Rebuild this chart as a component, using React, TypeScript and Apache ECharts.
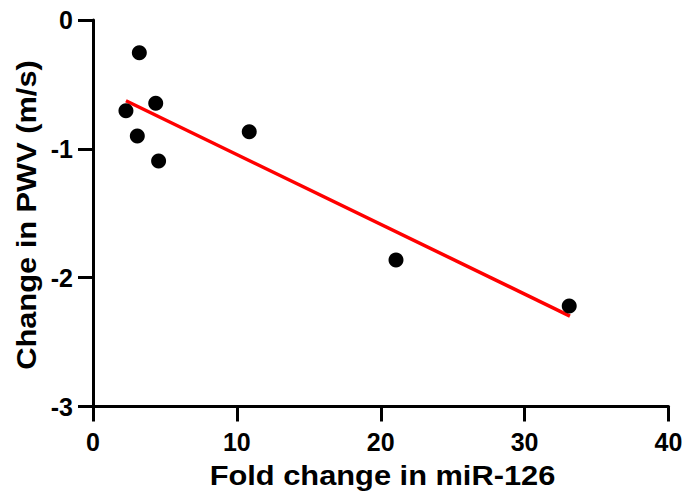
import React, { useEffect, useRef, useState } from "react";
import * as echarts from "echarts";

const foldChange = [2.29, 3.22, 3.08, 4.36, 4.56, 10.86, 21.06, 33.1];
const pwvChange = [-0.704, -0.254, -0.901, -0.647, -1.095, -0.867, -1.863, -2.22];
const fitLineX = [2.29, 33.15];
const fitLineY = [-0.627, -2.298];
const xTicks = [0, 10, 20, 30, 40];
const yTicks = [-3, -2, -1, 0];
const xTitle = "Fold change in miR-126";
const yTitle = "Change in PWV (m/s)";
const FONT = "'Liberation Sans', Arial, Helvetica, sans-serif";

export default function App() {
  const ref = useRef<HTMLDivElement>(null);
  const [ready, setReady] = useState(false);
  useEffect(() => {
    if (!ref.current) return;
    const chart = echarts.init(ref.current, null, { renderer: "svg" });
    const points = foldChange.map((x, i) => [x, pwvChange[i]]);
    const line = fitLineX.map((x, i) => [x, fitLineY[i]]);
    chart.setOption({
      animation: false,
      backgroundColor: "#fff",
      grid: { left: 93, right: 19.5, top: 20, bottom: 86.5 },
      xAxis: {
        type: "value",
        min: xTicks[0],
        max: xTicks[xTicks.length - 1],
        interval: 10,
        axisLine: { show: true, onZero: false, lineStyle: { color: "#000", width: 3 } },
        axisTick: { show: true, length: 15, lineStyle: { color: "#000", width: 3 } },
        splitLine: { show: false },
        axisLabel: { color: "#000", fontFamily: FONT, fontWeight: "bold", fontSize: 25, margin: 23 },
      },
      yAxis: {
        type: "value",
        min: yTicks[0],
        max: yTicks[yTicks.length - 1],
        interval: 1,
        axisLine: { show: true, onZero: false, lineStyle: { color: "#000", width: 3 } },
        axisTick: { show: true, length: 15, lineStyle: { color: "#000", width: 3 } },
        splitLine: { show: false },
        axisLabel: { color: "#000", fontFamily: FONT, fontWeight: "bold", fontSize: 25, margin: 20 },
      },
      graphic: [
        {
          type: "text", x: 382.5, y: 475, scaleX: 1.1,
          style: { text: xTitle, fill: "#000", font: `bold 28px ${FONT}`, align: "center", verticalAlign: "middle" },
        },
        {
          type: "text", x: 26, y: 215, rotation: Math.PI / 2, scaleX: 1.1,
          style: { text: yTitle, fill: "#000", font: `bold 28px ${FONT}`, align: "center", verticalAlign: "middle" },
        },
      ],
      series: [
        { type: "line", data: line, showSymbol: false, symbol: "none", lineStyle: { color: "#ff0000", width: 3.5 }, z: 2 },
        { type: "scatter", data: points, symbolSize: 15, itemStyle: { color: "#000", opacity: 1 }, z: 3 },
      ],
    });
    setReady(true);
    return () => chart.dispose();
  }, []);
  return (
    <div data-ready={ready ? "1" : "0"}>
      <div ref={ref} style={{ position: "fixed", left: 0, top: 0, width: 688, height: 493 }} />
    </div>
  );
}
